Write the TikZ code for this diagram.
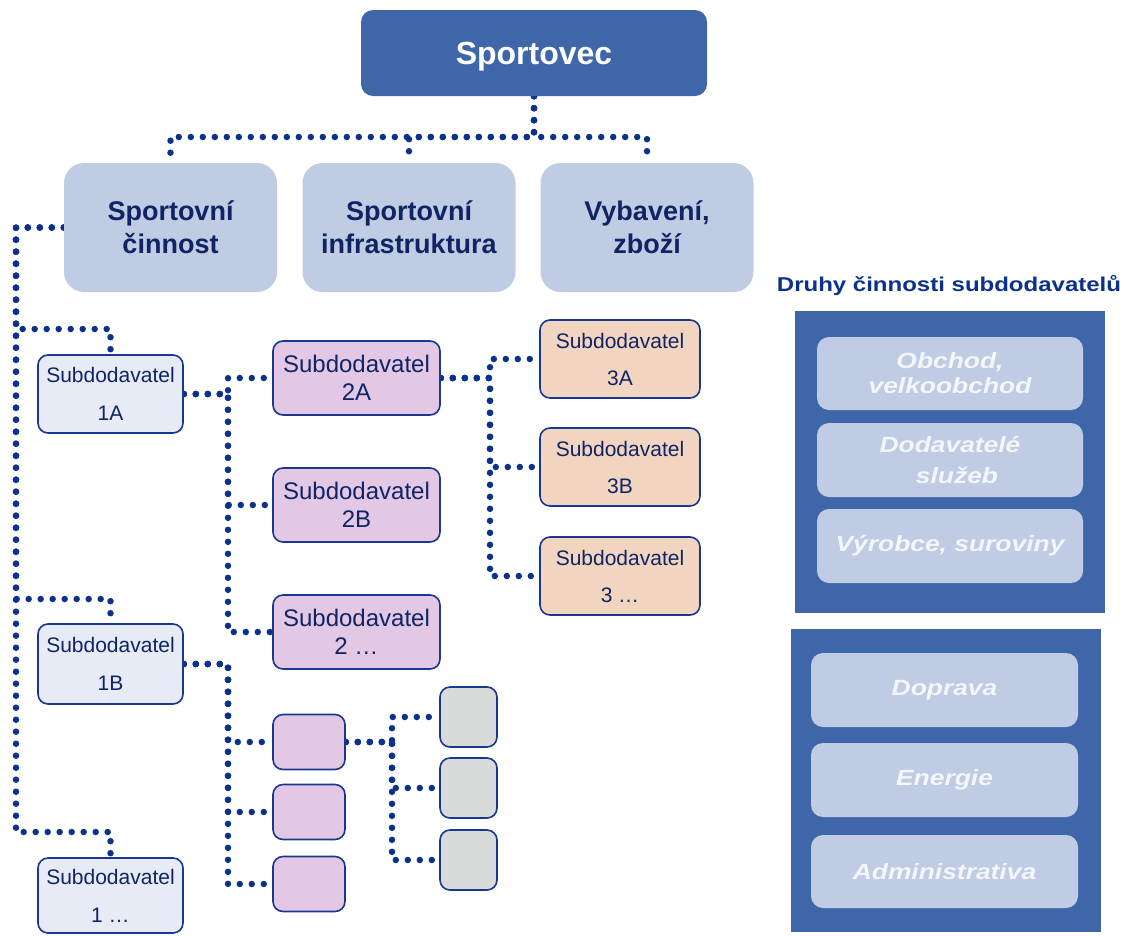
\documentclass[tikz,border=0pt]{standalone}
\usepackage{fontspec}
\setmainfont{Liberation Sans}
\newfontfamily\widefont[FakeStretch=1.2]{Liberation Sans}
\usetikzlibrary{backgrounds}
\definecolor{darkbox}{RGB}{64,102,170}
\definecolor{lightbox}{RGB}{192,204,228}
\definecolor{navytext}{RGB}{16,36,100}
\definecolor{dotblue}{RGB}{10,50,140}
\definecolor{edgeblue}{RGB}{25,55,145}
\definecolor{fillone}{RGB}{231,235,245}
\definecolor{filltwo}{RGB}{226,200,228}
\definecolor{fillthree}{RGB}{242,213,192}
\definecolor{fillgrey}{RGB}{217,219,219}
\definecolor{kindtext}{RGB}{244,246,252}

\begin{document}
\begin{tikzpicture}[x=1pt, y=-1pt,
    dots/.style={draw=dotblue, line width=6.5pt, line cap=round, dash pattern=on 0pt off 12pt},
    head/.style={fill=lightbox, rounded corners=20pt, minimum width=213pt, minimum height=129pt, inner sep=0pt, align=center, text=navytext, font=\bfseries\fontsize{27}{33}\selectfont},
    subbox/.style={draw=edgeblue, line width=1.6pt, rounded corners=10pt, inner sep=0pt, align=center, text=navytext},
    firstsub/.style={subbox, fill=fillone, minimum width=145pt, minimum height=78pt, font=\fontsize{21}{38}\selectfont},
    secondsub/.style={subbox, fill=filltwo, minimum width=167pt, minimum height=74pt, font=\fontsize{24}{28}\selectfont},
    thirdsub/.style={subbox, fill=fillthree, minimum width=160pt, minimum height=78pt, font=\fontsize{21}{37}\selectfont},
    smallsub/.style={subbox, fill=filltwo, minimum width=72pt, minimum height=55pt},
    greysub/.style={subbox, fill=fillgrey, minimum width=57pt, minimum height=60pt},
    panel/.style={fill=darkbox, inner sep=0pt},
    kind/.style={fill=lightbox, rounded corners=12pt, inner sep=0pt, minimum width=266pt, minimum height=74pt, align=center, text=kindtext, font=\widefont\bfseries\itshape\fontsize{22}{25}\selectfont}]
  \useasboundingbox (0, 0) rectangle (1124, 935);

  \node (sportovec)[fill=darkbox, rounded corners=12pt, minimum width=346pt, minimum height=86pt, text=white, text depth=0pt, font=\bfseries\fontsize{32}{38}\selectfont] at (534, 53) {Sportovec};
  \node (cinnost)[head] at (170.5, 227.5) {Sportovní\\činnost};
  \node (infra)[head] at (409, 227.5) {Sportovní\\infrastruktura};
  \node (vybaveni)[head] at (647, 227.5) {Vybavení,\\zboží};

  \node (s1a)[firstsub] at (110.5, 394) {Subdodavatel\\1A};
  \node (s1b)[firstsub, minimum height=80pt] at (110.5, 664) {Subdodavatel\\1B};
  \node (s1x)[firstsub, minimum height=75pt] at (110.5, 895.5) {Subdodavatel\\1 …};

  \node (s2a)[secondsub] at (356.5, 378) {Subdodavatel\\2A};
  \node (s2b)[secondsub] at (356.5, 505) {Subdodavatel\\2B};
  \node (s2x)[secondsub] at (356.5, 632) {Subdodavatel\\2 …};

  \node (s3a)[thirdsub] at (620, 359) {Subdodavatel\\3A};
  \node (s3b)[thirdsub] at (620, 467) {Subdodavatel\\3B};
  \node (s3x)[thirdsub] at (620, 576) {Subdodavatel\\3 …};

  \node (p1)[smallsub] at (309, 742) {};
  \node (p2)[smallsub] at (309, 812) {};
  \node (p3)[smallsub] at (309, 884) {};
  \node (g1)[greysub] at (468.5, 717) {};
  \node (g2)[greysub] at (468.5, 788) {};
  \node (g3)[greysub] at (468.5, 860) {};

  \coordinate (bus) at (534, 137);
  \coordinate (b1a) at (16, 329);
  \coordinate (b1b) at (16, 599);
  \coordinate (b1x) at (16, 832);
  \coordinate (j1a) at (228, 394);
  \coordinate (j2a) at (490, 378);
  \coordinate (j1b) at (228, 664);
  \coordinate (jp1) at (392, 742);

  \begin{scope}[on background layer]
    \draw[dots] (sportovec.south) -- (bus) -| (cinnost.north);
    \draw[dots] (sportovec.south) -- (bus) -| (infra.north);
    \draw[dots] (sportovec.south) -- (bus) -| (vybaveni.north);
    \draw[dots] (cinnost.west) -| (b1a) -| (s1a.north);
    \draw[dots] (cinnost.west) -| (b1b) -| (s1b.north);
    \draw[dots] (cinnost.west) -| (b1x) -| (s1x.north);
    \draw[dots] (s1a.east) -- (j1a) |- (s2a.west);
    \draw[dots] (s1a.east) -- (j1a) |- (s2b.west);
    \draw[dots] (s1a.east) -- (j1a) |- (s2x.west);
    \draw[dots] (s2a.east) -- (j2a) |- (s3a.west);
    \draw[dots] (s2a.east) -- (j2a) |- (s3b.west);
    \draw[dots] (s2a.east) -- (j2a) |- (s3x.west);
    \draw[dots] (s1b.east) -- (j1b) |- (p1.west);
    \draw[dots] (s1b.east) -- (j1b) |- (p2.west);
    \draw[dots] (s1b.east) -- (j1b) |- (p3.west);
    \draw[dots] (p1.east) -- (jp1) |- (g1.west);
    \draw[dots] (p1.east) -- (jp1) |- (g2.west);
    \draw[dots] (p1.east) -- (jp1) |- (g3.west);
  \end{scope}

  \node (kinds)[text=dotblue, font=\widefont\bfseries\fontsize{20}{24}\selectfont] at (949, 286) {Druhy činnosti subdodavatelů};
  \node (panel1)[panel, minimum width=310pt, minimum height=302pt] at (950, 462) {};
  \node (panel2)[panel, minimum width=310pt, minimum height=303pt] at (946, 780.5) {};
  \node (obchod)[kind, minimum height=73pt] at (950, 373.5) {Obchod,\\velkoobchod};
  \node (sluzby)[kind, font=\widefont\bfseries\itshape\fontsize{22}{31}\selectfont] at (950, 460) {Dodavatelé\\\hspace*{14pt}služeb};
  \node (vyrobce)[kind] at (950, 546) {Výrobce, suroviny};
  \node (doprava)[kind, minimum width=267pt] at (944.5, 690) {Doprava};
  \node (energie)[kind, minimum width=267pt] at (944.5, 780) {Energie};
  \node (admin)[kind, minimum width=267pt, minimum height=73pt] at (944.5, 871.5) {Administrativa};
\end{tikzpicture}
\end{document}
